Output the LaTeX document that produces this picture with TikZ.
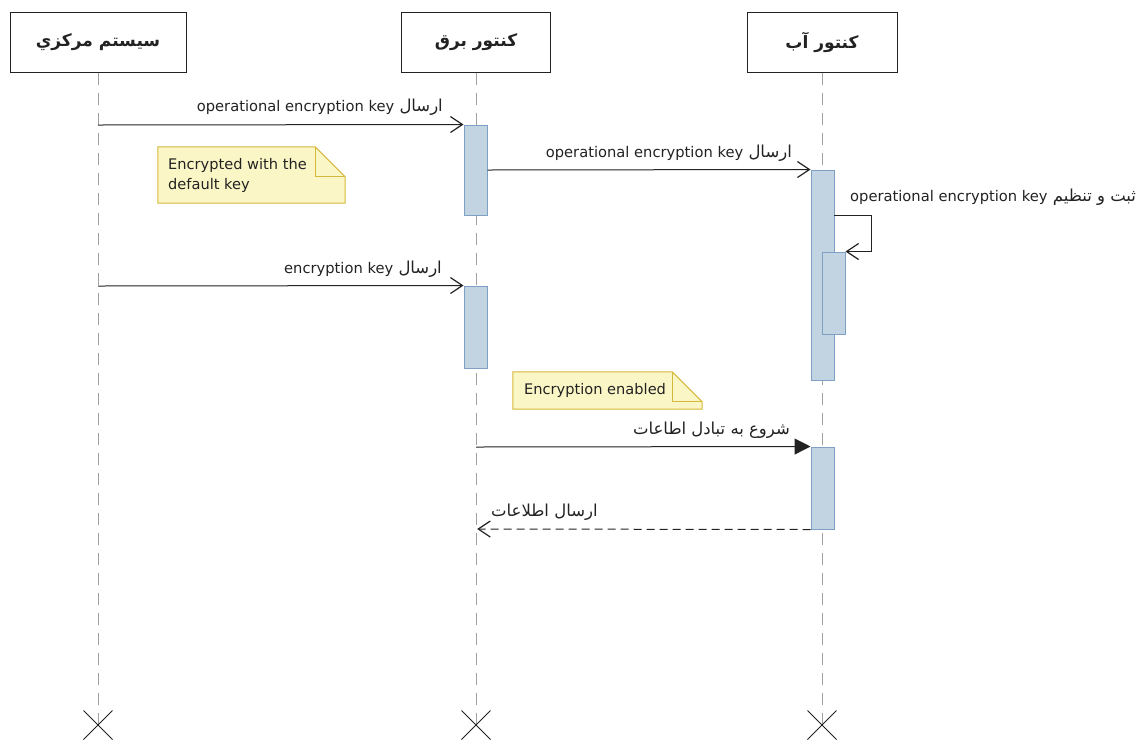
\documentclass[tikz,border=0pt]{standalone}
\usepackage{fontspec}
\setmainfont{DejaVu Sans}
\newfontfamily\arabicfont[Script=Arabic,Scale=1.12]{DejaVu Sans}
\newfontfamily\latinfont{DejaVu Sans}
\TeXXeTstate=1
\usetikzlibrary{arrows.meta}
\definecolor{lifegray}{HTML}{A0A0A0}
\definecolor{actfill}{HTML}{C2D3E1}
\definecolor{actline}{HTML}{7EA0C4}
\definecolor{notefill}{HTML}{FBF6C6}
\definecolor{noteline}{HTML}{D6B83A}
\definecolor{ink}{HTML}{222222}
\newcommand{\lt}[1]{\beginL{\latinfont #1}\endL}
\begin{document}
\begin{tikzpicture}[x=1pt,y=-1pt,
  head/.style={draw=ink, line width=1pt, fill=white, minimum height=60pt, inner sep=0pt,
    font=\arabicfont\bfseries\fontsize{15.2}{17}\selectfont, text=ink},
  life/.style={draw=lifegray, line width=1pt, dash pattern=on 12pt off 8pt},
  xmark/.style={draw=ink, line width=1pt},
  act/.style={draw=actline, fill=actfill, line width=1pt, minimum width=23pt, inner sep=0pt},
  msg/.style={draw=ink, line width=1pt, -{Straight Barb[length=12pt,width=16pt,line width=1.2pt]}},
  msgfill/.style={draw=ink, line width=1pt, -{Triangle[length=16pt,width=16pt]}},
  ret/.style={draw=ink, line width=1pt, dash pattern=on 8pt off 5pt, -{Straight Barb[length=12pt,width=16pt,line width=1.2pt,sep]}},
  lbl/.style={inner sep=0pt, text=ink, font=\fontsize{14.7}{17}\selectfont},
  notebox/.style={inner sep=0pt},
  note/.style={draw=noteline, fill=notefill, line width=1pt},
  notetext/.style={inner sep=0pt, text=ink, align=left, font=\fontsize{14.6}{20}\selectfont},
]
\useasboundingbox (0,0) rectangle (1142,740);

% participants
\node[head, minimum width=176pt] (h1) at (98,42) {\beginR سيستم مركزي\endR};
\node[head, minimum width=149pt] (h2) at (476,42) {\beginR كنتور برق\endR};
\node[head, minimum width=150pt] (h3) at (822,42) {\beginR كنتور آب\endR};

% lifeline ends
\coordinate (e1) at (98,725);
\coordinate (e2) at (476,725);
\coordinate (e3) at (822,725);
\draw[life] (h1.south) -- (e1);
\draw[life] (h2.south) -- (e2);
\draw[life] (h3.south) -- (e3);
\foreach \e in {e1,e2,e3}{
  \draw[xmark] ([shift={(-14.5,-14.5)}]\e) -- ([shift={(14.5,14.5)}]\e);
  \draw[xmark] ([shift={(14.5,-14.5)}]\e) -- ([shift={(-14.5,14.5)}]\e);
}

% activation bars
\node[act, minimum height=90pt]  (a1) at (475.5,170) {};
\node[act, minimum height=210pt] (a2) at (822.5,275) {};
\node[act, minimum height=82pt]  (a3) at (833.5,293) {};
\node[act, minimum height=82pt]  (a4) at (475.5,327) {};
\node[act, minimum height=82pt]  (a5) at (822.5,488) {};

% notes
\node[notebox, minimum width=187pt, minimum height=56pt] (n1) at (251.5,175) {};
\filldraw[note] (n1.south west) -- (n1.north west) -- ([xshift=-30pt]n1.north east)
  -- ([yshift=-30pt]n1.north east) -- (n1.south east) -- cycle;
\draw[note, fill=none] ([xshift=-30pt]n1.north east) |- ([yshift=-30pt]n1.north east);
\node[notetext, anchor=west] (n1t) at (168,175) {Encrypted with the\\default key};

\node[notebox, minimum width=189pt, minimum height=37pt] (n2) at (607.5,390.5) {};
\filldraw[note] (n2.south west) -- (n2.north west) -- ([xshift=-30pt]n2.north east)
  -- ([yshift=-30pt]n2.north east) -- (n2.south east) -- cycle;
\draw[note, fill=none] ([xshift=-30pt]n2.north east) |- ([yshift=-30pt]n2.north east);
\node[notetext, anchor=west] (n2t) at (524,390) {Encryption enabled};

% messages
\coordinate (s1) at (98,125);
\draw[msg] (s1) -- (a1.north west);
\node[lbl, anchor=base east] (t1) at (443,111)
  {\arabicfont\beginR ارسال \lt{operational encryption key}\endR};

\draw[msg] (a1.east) -- (a2.north west);
\node[lbl, anchor=base east] (t2) at (792,157)
  {\arabicfont\beginR ارسال \lt{operational encryption key}\endR};

\coordinate (so) at (834,215);
\draw[msg] (so) -- ++(37,0) |- (a3.north east);
\node[lbl, anchor=base west] (t3) at (850,201)
  {\arabicfont\beginR ثبت و تنظيم \lt{operational encryption key}\endR};

\coordinate (s4) at (98,286);
\draw[msg] (s4) -- (a4.north west);
\node[lbl, anchor=base east] (t4) at (442,273)
  {\arabicfont\beginR ارسال \lt{encryption key}\endR};

\coordinate (s5) at (476,447);
\draw[msgfill] (s5) -- (a5.north west);
\node[lbl, anchor=base east] (t5) at (790,434)
  {\arabicfont\beginR شروع به تبادل اطاعات\endR};

\coordinate (s6) at (476,529);
\draw[ret] (a5.south west) -- (s6);
\node[lbl, anchor=base west] (t6) at (491,516)
  {\arabicfont\beginR ارسال اطلاعات\endR};
\end{tikzpicture}
\end{document}
